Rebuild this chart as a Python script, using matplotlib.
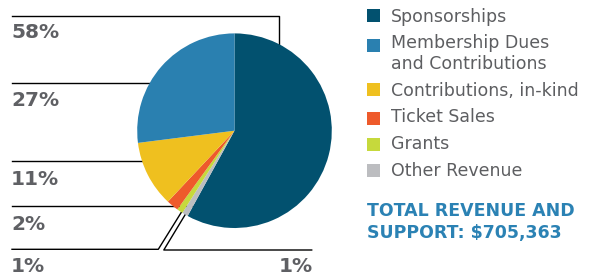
import matplotlib
matplotlib.use('Agg')
import matplotlib.pyplot as plt

W, H = 594, 277

# data (clockwise from top)
labels = ['Sponsorships', 'Other Revenue', 'Grants', 'Ticket Sales',
          'Contributions, in-kind', 'Membership Dues\nand Contributions']
values = [58, 1, 1, 2, 11, 27]
colors = ['#02516f', '#bcbdc0', '#c6d93c', '#ee5a2b', '#efc01f', '#2a80b0']

legend_order = [0, 5, 4, 3, 2, 1]
pct_labels = ['58%', '27%', '11%', '2%', '1%']
total_text = 'TOTAL REVENUE AND\nSUPPORT: $705,363'

fig = plt.figure(figsize=(W / 100, H / 100), dpi=100)
ax = fig.add_axes([0, 0, 1, 1])

def Y(y):
    return H - y

cx, cy, r = 234.5, 130.7, 97.3
ax.pie(values, colors=colors, startangle=90, counterclock=False,
       center=(cx, Y(cy)), radius=r, wedgeprops=dict(linewidth=0), frame=True)
ax.set_xlim(0, W)
ax.set_ylim(0, H)
ax.set_aspect('equal')
ax.axis('off')

# leader lines (drawn under pie)
lw = 1.0
ax.plot([12, 279.3, 279.3], [Y(16.3), Y(16.3), Y(70)], color='black', lw=lw, zorder=0)
ax.plot([12, 200], [Y(83), Y(83)], color='black', lw=lw, zorder=0)
ax.plot([12, 200], [Y(160.7), Y(160.7)], color='black', lw=lw, zorder=0)
ax.plot([12, 200], [Y(205.7), Y(205.7)], color='black', lw=lw, zorder=0)
ax.plot([12, 158.3, 184], [Y(249.3), Y(249.3), Y(208)], color='black', lw=lw, zorder=0)
ax.plot([311.7, 163.8, 188], [Y(250), Y(250), Y(210)], color='black', lw=lw, zorder=0)

pct_color = '#5f6064'
pct_y = [32.5, 101, 179.5, 224, 267]
for t, y in zip(pct_labels, pct_y):
    ax.text(11, Y(y), t, fontsize=14.5, fontweight='bold', color=pct_color,
            ha='left', va='center', family='DejaVu Sans')
ax.text(279, Y(267), '1%', fontsize=14.5, fontweight='bold', color=pct_color,
        ha='left', va='center', family='DejaVu Sans')

# legend
leg_color = '#5d5e61'
sq_y = [15, 45, 89, 118, 144, 170]
txt_y = [17, 53.5, 91, 117, 144, 171]
for i, sy, ty in zip(legend_order, sq_y, txt_y):
    ax.add_patch(plt.Rectangle((367, Y(sy) - 6.5), 13, 13, color=colors[i], lw=0))
    ax.text(391, Y(ty), labels[i], fontsize=12.5, color=leg_color,
            ha='left', va='center', linespacing=1.25, family='DejaVu Sans')

ax.text(367, Y(222), total_text, fontsize=12.5, fontweight='bold', color='#2b82b4',
        ha='left', va='center', linespacing=1.25, family='DejaVu Sans')

fig.savefig('out.png', dpi=100)
